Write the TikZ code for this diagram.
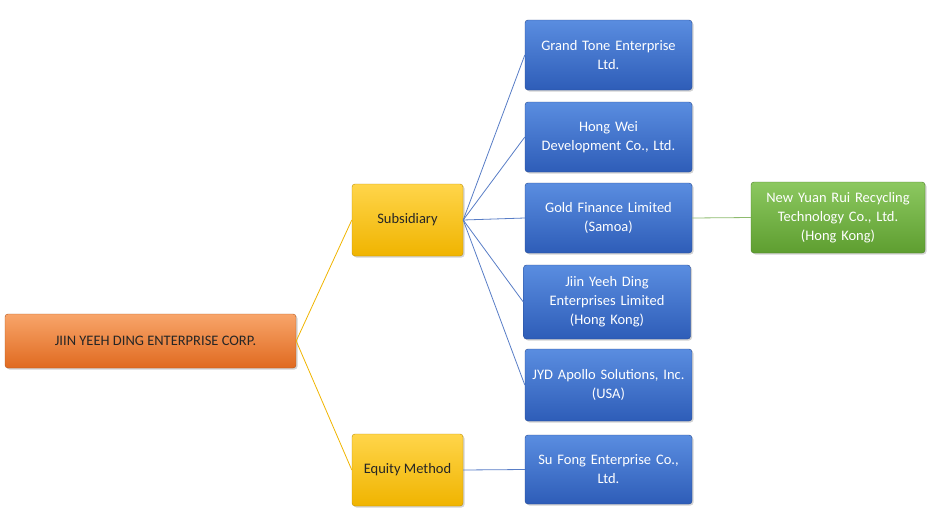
\documentclass[tikz,border=0pt]{standalone}
\usepackage{fontspec}
\setmainfont{Carlito}
\usetikzlibrary{shadows}
\begin{document}
\begin{tikzpicture}[x=1pt,y=-1pt,
 box/.style={rounded corners=3pt,draw=#1!80!black,line width=0.4pt,drop shadow={opacity=0.35,shadow xshift=1.5pt,shadow yshift=-1.5pt},
   align=center,font=\fontsize{14.5}{19}\selectfont,inner sep=2pt},
 blue/.style={box=blue,top color=blue!25!cyan!60!white,bottom color=blue!70!cyan!60!black!90,text=white},
 ln/.style={line width=0.8pt}]
\useasboundingbox (0,0) rectangle (943,528);
\definecolor{bt}{HTML}{5A8DE0}\definecolor{bb}{HTML}{2E5DB8}
\tikzset{blue/.style={box=bb,top color=bt,bottom color=bb,text=white,minimum width=167pt,minimum height=70pt,text width=160pt}}
\definecolor{ot}{HTML}{F8A56A}\definecolor{ob}{HTML}{E06A20}
\definecolor{yt}{HTML}{FFD54A}\definecolor{yb}{HTML}{F0B400}
\definecolor{gt}{HTML}{8CC860}\definecolor{gb}{HTML}{5E9E30}
\node[box=ob,top color=ot,bottom color=ob,minimum width=291pt,minimum height=54pt,text=black!85] (root) at (150.5,341) {\hspace*{10pt}JIIN YEEH DING ENTERPRISE CORP.};
\node[box=yb,top color=yt,bottom color=yb,minimum width=111pt,minimum height=72pt,text=black!85] (sub) at (407.5,220) {Subsidiary};
\node[box=yb,top color=yt,bottom color=yb,minimum width=111pt,minimum height=72pt,text=black!85] (eq) at (407.5,470) {Equity Method};
\node[blue] (a) at (608.5,55) {Grand Tone Enterprise\\Ltd.};
\node[blue] (b) at (608.5,137) {Hong Wei\\Development Co., Ltd.};
\node[blue] (c) at (608.5,218) {Gold Finance Limited\\(Samoa)};
\node[blue,minimum height=74pt] (d) at (607,302) {Jiin Yeeh Ding\\Enterprises Limited\\(Hong Kong)};
\node[blue,minimum height=72pt] (e) at (608.5,385) {JYD Apollo Solutions, Inc.\\(USA)};
\node[blue,minimum height=69pt] (f) at (608.5,469.5) {Su Fong Enterprise Co.,\\Ltd.};
\node[box=gb,top color=gt,bottom color=gb,text=white,minimum width=174pt,minimum height=71pt,text width=170pt] (g) at (838,217.5) {New Yuan Rui Recycling\\Technology Co., Ltd.\\(Hong Kong)};
\begin{scope}[on background layer/.try]
\draw[ln,draw=yb] (root.east) -- (sub.west);
\draw[ln,draw=yb] (root.east) -- (eq.west);
\foreach \n in {a,b,c,d,e} \draw[ln,draw=bb!80] (sub.east) -- (\n.west);
\draw[ln,draw=bb!80] (eq.east) -- (f.west);
\draw[ln,draw=gb!70] (c.east) -- (g.west);
\end{scope}
\end{tikzpicture}
\end{document}
